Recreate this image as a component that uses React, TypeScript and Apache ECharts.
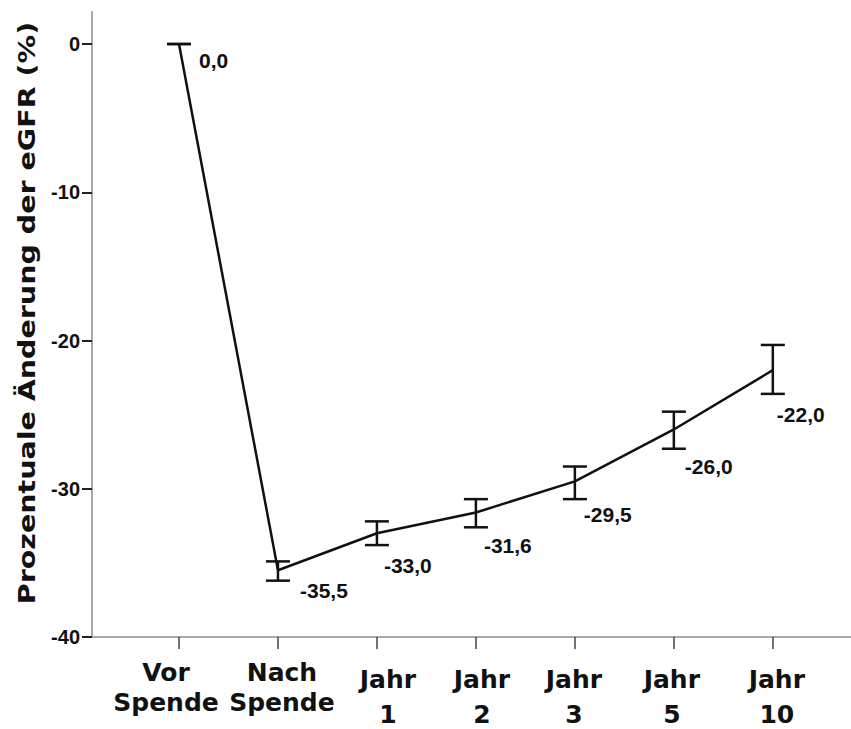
import React, { useEffect, useRef } from "react";
import * as echarts from "echarts";

// Time points of the follow-up
const categories = ["Vor\nSpende", "Nach\nSpende", "Jahr\n1", "Jahr\n2", "Jahr\n3", "Jahr\n5", "Jahr\n10"];
// Mean percentage change of eGFR and its interval bounds
const meanChange = [0.0, -35.5, -33.0, -31.6, -29.5, -26.0, -22.0];
const lowerBound = [0.0, -36.2, -33.8, -32.6, -30.7, -27.3, -23.6];
const upperBound = [0.0, -34.9, -32.2, -30.7, -28.5, -24.8, -20.3];
// Y axis tick values
const yTicks = [-40, -30, -20, -10, 0];

// Layout tweaks: pixel offsets of the value labels and horizontal nudges of the category labels
const valueLabelOffsets = [[20, 16], [22, 20], [7, 32], [8, 33], [9, 33], [11, 37], [4, 44]];
const categoryShift = [-13, 4, 11, 6, -1, -2, 4];

const formatDe = (v: number) => v.toFixed(1).replace(".", ",");

export default function App() {
  const ref = useRef<HTMLDivElement>(null);

  useEffect(() => {
    document.body.style.margin = "0";
    if (!ref.current) return;
    const chart = echarts.init(ref.current, null, { renderer: "svg" });

    const errData = meanChange.map((m, i) => [i, m, lowerBound[i], upperBound[i]]);
    const tickValues = categories.map((_, i) => i);

    const yTitle = {
      type: "text",
      x: 27,
      y: 313,
      rotation: Math.PI / 2,
      scaleX: 1.24,
      style: {
        text: "Prozentuale Änderung der eGFR (%)",
        font: "bold 23px 'DejaVu Sans'",
        fill: "#111",
        textAlign: "center",
        textVerticalAlign: "middle",
        align: "center",
        verticalAlign: "middle",
      },
    };

    chart.setOption({
      animation: false,
      backgroundColor: "#fff",
      grid: {
        left: 92,
        right: 0,
        top: 12,
        bottom: 92,
        containLabel: false,
        outerBoundsMode: "none",
      },
      xAxis: {
        type: "value",
        min: -0.879,
        max: 6.79,
        splitLine: { show: false },
        axisLine: { show: true, onZero: false, lineStyle: { color: "#a8a8a8", width: 2 } },
        axisTick: {
          show: true,
          length: 12,
          customValues: tickValues,
          lineStyle: { color: "#444", width: 1.5 },
        },
        axisLabel: { show: false },
      },
      yAxis: {
        type: "value",
        min: -40,
        max: 2.16,
        splitLine: { show: false },
        axisLine: { show: true, onZero: false, lineStyle: { color: "#a8a8a8", width: 2 } },
        axisTick: {
          show: true,
          length: 10,
          customValues: yTicks,
          lineStyle: { color: "#222", width: 2 },
        },
        axisLabel: {
          customValues: yTicks,
          margin: 12,
          color: "#111",
          fontFamily: "Liberation Sans",
          fontWeight: "bold",
          fontSize: 20,
          showMinLabel: true,
          formatter: (v: number) => String(v),
        },
      },
      graphic: [yTitle],
      series: [
        {
          type: "line",
          data: meanChange.map((m, i) => [i, m]),
          symbol: "none",
          lineStyle: { color: "#111", width: 2.5 },
          z: 2,
        },
        {
          type: "custom",
          data: errData,
          z: 3,
          renderItem: (params: any, api: any) => {
            const i = api.value(0);
            const mean = api.value(1);
            const lo = api.coord([i, api.value(2)]);
            const hi = api.coord([i, api.value(3)]);
            const mid = api.coord([i, mean]);
            const hw = 12;
            const ls = { stroke: "#111", lineWidth: 2.5 };
            const off = valueLabelOffsets[params.dataIndex];
            return {
              type: "group",
              children: [
                { type: "line", shape: { x1: lo[0], y1: lo[1], x2: hi[0], y2: hi[1] }, style: ls },
                { type: "line", shape: { x1: lo[0] - hw, y1: lo[1], x2: lo[0] + hw, y2: lo[1] }, style: ls },
                { type: "line", shape: { x1: hi[0] - hw, y1: hi[1], x2: hi[0] + hw, y2: hi[1] }, style: ls },
                {
                  type: "text",
                  style: {
                    text: formatDe(mean),
                    x: mid[0] + off[0],
                    y: mid[1] + off[1],
                    font: "bold 21px 'Liberation Sans'",
                    fill: "#111",
                    align: "left",
                    verticalAlign: "middle",
                  },
                },
              ],
            };
          },
        },
      ],
    });

    // Category labels placed under each tick, using the x axis scale
    const axisY = chart.convertToPixel({ yAxisIndex: 0 }, -40) as number;
    const catLabels: any[] = [];
    categories.forEach((cat, i) => {
      const px = (chart.convertToPixel({ xAxisIndex: 0 }, i) as number) + categoryShift[i];
      const lines = cat.split("\n");
      const firstY = axisY + (i < 2 ? 35 : 42);
      const secondY = axisY + (i < 2 ? 65 : 77);
      [firstY, secondY].forEach((yy, k) => {
        catLabels.push({
          type: "text",
          x: px,
          y: yy,
          style: {
            text: lines[k],
            font: "bold 25px 'DejaVu Sans'",
            fill: "#111",
            textAlign: "center",
            textVerticalAlign: "middle",
            align: "center",
            verticalAlign: "middle",
          },
        });
      });
    });
    chart.setOption({ graphic: [yTitle, ...catLabels] });

    return () => chart.dispose();
  }, []);

  return <div ref={ref} style={{ width: 851, height: 729 }} />;
}
